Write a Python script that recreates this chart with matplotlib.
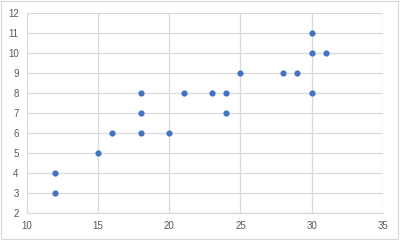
import matplotlib
matplotlib.use("Agg")
import matplotlib.pyplot as plt
from matplotlib.patches import Rectangle

x_vals = [12, 12, 15, 16, 18, 18, 18, 20, 21, 23, 24, 24, 25, 28, 29, 30, 30, 30, 31]
y_vals = [4, 3, 5, 6, 8, 7, 6, 6, 8, 8, 8, 7, 9, 9, 9, 11, 10, 8, 10]
x_ticks = [10, 15, 20, 25, 30, 35]
y_ticks = [2, 3, 4, 5, 6, 7, 8, 9, 10, 11, 12]

plt.rcParams["font.family"] = ["Liberation Sans", "DejaVu Sans"]

fig = plt.figure(figsize=(4, 2.4), dpi=100)
ax = fig.add_axes([0.0675, 0.1125, 0.957 - 0.0675, 0.946 - 0.1125])

ax.scatter(x_vals, y_vals, s=20, color="#4472C4", zorder=3, linewidths=0)

ax.set_xlim(10, 35)
ax.set_ylim(2, 12)
ax.set_xticks(x_ticks)
ax.set_yticks(y_ticks)
ax.grid(True, color="#D9D9D9", linewidth=0.9)
ax.set_axisbelow(True)
for side in ["left", "right", "top"]:
    ax.spines[side].set_visible(False)
ax.spines["bottom"].set_color("#D9D9D9")
ax.spines["bottom"].set_linewidth(0.9)
ax.tick_params(length=0, labelsize=7, labelcolor="#595959", pad=6)

fig.patches.append(Rectangle((0.002, 0.004), 0.994, 0.99, transform=fig.transFigure,
                             fill=False, edgecolor="#D9D9D9", linewidth=0.9))

fig.savefig("out.png", dpi=100)
